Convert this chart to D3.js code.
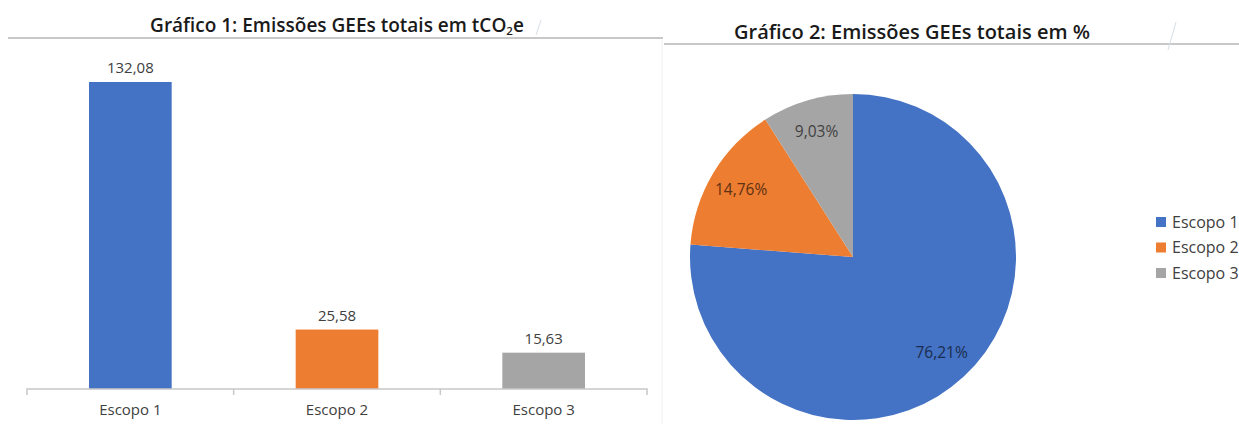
<!DOCTYPE html>
<html>
<head>
<meta charset="utf-8">
<script src="https://cdn.jsdelivr.net/npm/d3@7"></script>
<style>
  body { margin: 0; background: #fff; }
  svg { display: block; font-family: "Open Sans", "Noto Sans", sans-serif; }
</style>
</head>
<body>
<svg id="chart" width="1239" height="424"></svg>
<script>
// data
var categories = ['Escopo 1', 'Escopo 2', 'Escopo 3'];
var emissions = [132.08, 25.58, 15.63];          // tCO2e
var shares = [76.21, 14.76, 9.03];               // %
var colors = ['#4472C4', '#ED7D31', '#A5A5A5'];

var fmt = function(v) { return d3.format('.2f')(v).replace('.', ','); };

var svg = d3.select('#chart');

// header rules + faint separator
svg.append('line').attr('x1', 8).attr('x2', 663).attr('y1', 38).attr('y2', 38)
    .attr('stroke', '#c8c8c8').attr('stroke-width', 2);
svg.append('line').attr('x1', 664).attr('x2', 1239).attr('y1', 44).attr('y2', 44)
    .attr('stroke', '#c8c8c8').attr('stroke-width', 2);
svg.append('line').attr('x1', 662).attr('x2', 662).attr('y1', 40).attr('y2', 424)
    .attr('stroke', '#f0f0f0').attr('stroke-width', 1);
svg.append('line').attr('x1', 536).attr('x2', 541).attr('y1', 35).attr('y2', 20)
    .attr('stroke', '#d6dde8').attr('stroke-width', 1);
svg.append('line').attr('x1', 1168).attr('x2', 1176).attr('y1', 50).attr('y2', 22)
    .attr('stroke', '#d6dde8').attr('stroke-width', 1);

// ---- chart 1: bars ----
var t1 = svg.append('text').attr('x', 337).attr('y', 32)
    .attr('text-anchor', 'middle').attr('font-size', 19).attr('font-weight', 600)
    .attr('fill', '#1a1a1a');
t1.append('tspan').text('Gráfico 1: Emissões GEEs totais em tCO');
t1.append('tspan').attr('font-size', 11.5).attr('dy', 3).text('2');
t1.append('tspan').attr('dy', -3).text('e');

var x = d3.scaleBand().domain(categories).range([27, 647]).paddingInner(0.6).paddingOuter(0.3);
var y = d3.scaleLinear().domain([0, 132.08]).range([389, 82]);

var bars = svg.append('g');
bars.selectAll('rect').data(emissions).enter().append('rect')
    .attr('x', function(d, i) { return x(categories[i]); })
    .attr('width', x.bandwidth())
    .attr('y', function(d) { return y(d); })
    .attr('height', function(d) { return y(0) - y(d); })
    .attr('fill', function(d, i) { return colors[i]; });

bars.selectAll('text').data(emissions).enter().append('text')
    .attr('x', function(d, i) { return x(categories[i]) + x.bandwidth() / 2; })
    .attr('y', function(d) { return y(d) - 14; })
    .attr('text-anchor', 'middle').attr('dy', '0.35em')
    .attr('font-size', 15).attr('fill', '#404040')
    .text(fmt);

var xAxis = svg.append('g').attr('transform', 'translate(0,389)')
    .call(d3.axisBottom(x).tickSize(0).tickPadding(15));
xAxis.select('.domain').attr('stroke', '#c8c8c8').attr('stroke-width', 1.5)
    .attr('d', 'M27,6V0H647V6');
xAxis.selectAll('text').attr('font-size', 15).attr('fill', '#404040')
    .attr('font-family', '"Open Sans", sans-serif');
// band-edge ticks
xAxis.selectAll('.edge').data(categories.slice(1)).enter().append('line')
    .attr('class', 'edge')
    .attr('x1', function(c) { return x(c) - x.step() * x.paddingInner() / 2; })
    .attr('x2', function(c) { return x(c) - x.step() * x.paddingInner() / 2; })
    .attr('y1', 0).attr('y2', 6).attr('stroke', '#c8c8c8').attr('stroke-width', 1.5);

// ---- chart 2: pie ----
svg.append('text').attr('x', 912).attr('y', 39)
    .attr('text-anchor', 'middle').attr('font-size', 20).attr('font-weight', 600)
    .attr('fill', '#1a1a1a')
    .text('Gráfico 2: Emissões GEEs totais em %');

var r = 163;
var pie = d3.pie().sort(null).value(function(d) { return d; });
var arc = d3.arc().innerRadius(0).outerRadius(r);
var labelArc = d3.arc().innerRadius(r * 0.8).outerRadius(r * 0.8);

var pg = svg.append('g').attr('transform', 'translate(853,257)');
var slices = pie(shares);
pg.selectAll('path').data(slices).enter().append('path')
    .attr('d', arc)
    .attr('fill', function(d, i) { return colors[i]; });

pg.selectAll('text').data(slices).enter().append('text')
    .attr('transform', function(d) { return 'translate(' + labelArc.centroid(d) + ')'; })
    .attr('text-anchor', 'middle').attr('dy', '0.35em')
    .attr('font-size', 15.5)
    .attr('fill', function(d, i) { return d3.color(colors[i]).darker(2.6); })
    .text(function(d) { return fmt(d.data) + '%'; });

// legend
var lg = svg.append('g').attr('transform', 'translate(1156,222)');
var items = lg.selectAll('g').data(categories).enter().append('g')
    .attr('transform', function(d, i) { return 'translate(0,' + i * 25.5 + ')'; });
items.append('rect').attr('x', 0).attr('y', -5).attr('width', 10).attr('height', 10)
    .attr('fill', function(d, i) { return colors[i]; });
items.append('text').attr('x', 16).attr('dy', '0.35em')
    .attr('font-size', 16).attr('fill', '#404040').text(function(d) { return d; });
</script>
</body>
</html>
